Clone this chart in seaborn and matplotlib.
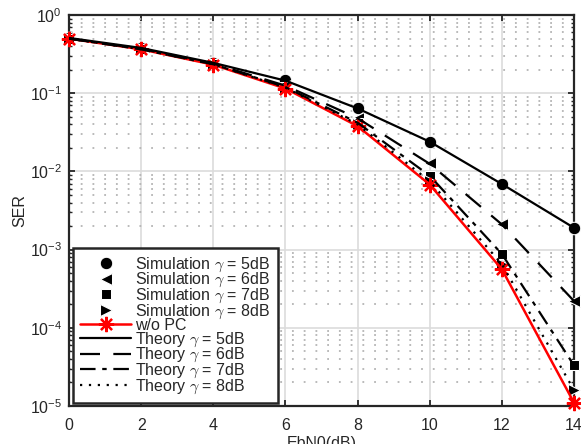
import matplotlib; matplotlib.use('Agg')
import matplotlib.pyplot as plt
import seaborn as sns
from matplotlib.ticker import LogLocator, NullFormatter, MultipleLocator

# EbN0 (dB) points
ebn0 = [0, 2, 4, 6, 8, 10, 12, 14]
# simulated SER for each clipping level gamma
sim5 = [0.51, 0.38, 0.245, 0.147, 0.065, 0.024, 0.0069, 0.0019]
sim6 = [0.5, 0.37, 0.24, 0.125, 0.048, 0.0128, 0.0021, 2.2e-4]
sim7 = [0.5, 0.365, 0.235, 0.12, 0.042, 0.0088, 8.8e-4, 3.3e-5]
sim8 = [0.5, 0.365, 0.235, 0.118, 0.040, 0.0075, 6.5e-4, 1.6e-5]
wopc = [0.5, 0.365, 0.232, 0.115, 0.038, 0.0068, 5.6e-4, 1.1e-5]
# theory curves
th5 = [0.51, 0.38, 0.245, 0.145, 0.064, 0.024, 0.0069, 0.0019]
th6 = [0.5, 0.37, 0.24, 0.125, 0.048, 0.0125, 0.0021, 2.2e-4]
th7 = [0.5, 0.365, 0.235, 0.12, 0.042, 0.0088, 8.8e-4, 3.3e-5]
th8 = [0.5, 0.365, 0.235, 0.118, 0.040, 0.0075, 6.5e-4, 1.6e-5]

sns.set_style("ticks")
plt.rcParams['font.family'] = ['Liberation Sans', 'DejaVu Sans']
plt.rcParams['mathtext.fontset'] = 'cm'
plt.rcParams['font.size'] = 10

fig = plt.figure(figsize=(5.81, 4.44), dpi=100)
ax = fig.add_axes([0.1188, 0.0856, 0.8692, 0.8804])

k = dict(color='black', linestyle='None', clip_on=False, zorder=4)
sns.lineplot(x=ebn0, y=sim5, marker='o', markersize=9, label=r'Simulation $\gamma$ = 5dB', ax=ax, **k)
sns.lineplot(x=ebn0, y=sim6, marker='<', markersize=9, label=r'Simulation $\gamma$ = 6dB', ax=ax, **k)
sns.lineplot(x=ebn0, y=sim7, marker='s', markersize=7, label=r'Simulation $\gamma$ = 7dB', ax=ax, **k)
sns.lineplot(x=ebn0, y=sim8, marker='>', markersize=9, label=r'Simulation $\gamma$ = 8dB', ax=ax, **k)
sns.lineplot(x=ebn0, y=wopc, color='red', lw=1.8, marker=(8, 2, 0), markersize=11, mew=1.6,
             mec='red', label='w/o PC', ax=ax, clip_on=False, zorder=5)
sns.lineplot(x=ebn0, y=th5, color='black', lw=1.6, linestyle='-', label=r'Theory $\gamma$ = 5dB', ax=ax, zorder=6)
sns.lineplot(x=ebn0, y=th6, color='black', lw=1.6, linestyle=(0, (9, 6)), label=r'Theory $\gamma$ = 6dB', ax=ax, zorder=6)
sns.lineplot(x=ebn0, y=th7, color='black', lw=1.6, linestyle=(0, (7, 3, 2, 3)), label=r'Theory $\gamma$ = 7dB', ax=ax, zorder=6)
sns.lineplot(x=ebn0, y=th8, color='black', lw=1.6, linestyle=(0, (1, 3)), label=r'Theory $\gamma$ = 8dB', ax=ax, zorder=6)

ax.set_yscale('log')
ax.set_xlim(0, 14)
ax.set_ylim(1e-5, 1)
ax.xaxis.set_major_locator(MultipleLocator(2))
ax.yaxis.set_major_locator(LogLocator(base=10, numticks=10))
ax.yaxis.set_minor_locator(LogLocator(base=10, subs=range(2, 10), numticks=10))
ax.yaxis.set_minor_formatter(NullFormatter())

ax.grid(True, which='major', color='#dcdcdc', lw=1.2, linestyle='-')
ax.grid(True, which='minor', axis='y', color='#b4b4b4', lw=1.3, linestyle=(0, (1, 5.5)))
ax.set_axisbelow(True)

for s in ax.spines.values():
    s.set_color('#262626'); s.set_linewidth(1.6)
ax.tick_params(which='both', direction='in', top=True, right=True, colors='#262626', labelsize=11.5)
ax.tick_params(which='major', length=4, width=1.3)
ax.tick_params(axis='x', which='major', pad=9)
ax.tick_params(axis='y', which='major', pad=5)
ax.tick_params(which='minor', length=2.5, width=1.0)

ax.set_xlabel('EbN0(dB)', fontsize=11.5, labelpad=2)
ax.set_ylabel('SER', fontsize=11.5, labelpad=2)

leg = ax.legend(loc='lower left', fontsize=11.5, handlelength=3.2, labelspacing=-0.17,
                handletextpad=0.25, borderpad=0.45, borderaxespad=0.0, fancybox=False, framealpha=1,
                bbox_to_anchor=(0.008, 0.008))
leg.get_frame().set_edgecolor('#262626')
leg.get_frame().set_linewidth(1.8)
leg.set_zorder(10)

fig.savefig('out.png', dpi=100)
